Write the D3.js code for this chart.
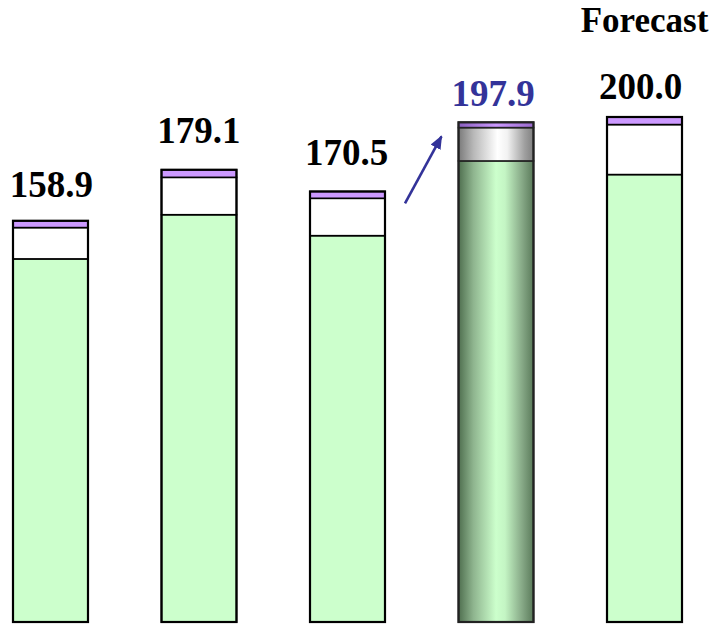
<!DOCTYPE html>
<html>
<head>
<meta charset="utf-8">
<script src="https://cdn.jsdelivr.net/npm/d3@7"></script>
<style>
html,body{margin:0;padding:0;background:#fff;}
svg{display:block;}
</style>
</head>
<body>
<svg id="chart" width="713" height="624"></svg>
<script>
const categories = ["Y1", "Y2", "Y3", "Y4", "Y5"];
const baseValues = [143.8, 161.3, 153.0, 182.6, 177.2];
const midValues = [12.4, 14.8, 14.8, 13.2, 19.8];
const topValues = [2.7, 3.0, 2.7, 2.1, 3.0];
const totalLabels = ["158.9", "179.1", "170.5", "197.9", "200.0"];
const highlightIndex = 3;
const forecastIndex = 4;
const forecastLabel = "Forecast";

// layout constants
const labelGap = [24, 27, 26, 16, 18];
const labelShift = [1, 0, -1, -3, -4];

const svg = d3.select("#chart");
const defs = svg.append("defs");

function hGrad(id, stops) {
  const g = defs.append("linearGradient").attr("id", id)
    .attr("x1", "0%").attr("x2", "100%").attr("y1", "0%").attr("y2", "0%");
  stops.forEach(s => g.append("stop").attr("offset", s[0]).attr("stop-color", s[1]));
}
hGrad("gGreen", [["0%", "#4f6f4f"], ["20%", "#8fb58f"], ["50%", "#ccffcc"], ["62%", "#c4f5c4"], ["85%", "#86a886"], ["100%", "#5a7a5a"]]);
hGrad("gGray", [["0%", "#7a7a7a"], ["20%", "#b8b8b8"], ["52%", "#ffffff"], ["65%", "#f2f2f2"], ["88%", "#a0a0a0"], ["100%", "#808080"]]);
hGrad("gPurple", [["0%", "#8a5fbf"], ["50%", "#cc99ff"], ["100%", "#9a6acc"]]);

const x = d3.scaleBand().domain(categories).range([13, 682]).paddingInner(0.495).paddingOuter(0);
const y = d3.scaleLinear().domain([0, 200]).range([622, 117]);

const data = categories.map((c, i) => {
  const b = baseValues[i], m = midValues[i], t = topValues[i];
  return {c, i, segs: [
    {y0: 0, y1: b, kind: "base"},
    {y0: b, y1: b + m, kind: "mid"},
    {y0: b + m, y1: b + m + t, kind: "top"}
  ], total: b + m + t};
});

const fills = {
  base: i => i === highlightIndex ? "url(#gGreen)" : "#ccffcc",
  mid: i => i === highlightIndex ? "url(#gGray)" : "#ffffff",
  top: i => i === highlightIndex ? "url(#gPurple)" : "#cc99ff"
};

const bars = svg.selectAll("g.bar").data(data).join("g").attr("class", "bar");
bars.selectAll("rect.seg").data(d => d.segs.map(s => ({...s, c: d.c, i: d.i}))).join("rect")
  .attr("class", "seg")
  .attr("x", d => x(d.c))
  .attr("width", x.bandwidth())
  .attr("y", d => y(d.y1))
  .attr("height", d => y(d.y0) - y(d.y1))
  .attr("fill", d => fills[d.kind](d.i))
  .attr("stroke", d => d.i === highlightIndex ? "#222" : "#000")
  .attr("stroke-width", 1.6);

bars.append("rect")
  .attr("x", d => x(d.c))
  .attr("width", x.bandwidth())
  .attr("y", d => y(d.total))
  .attr("height", d => y(0) - y(d.total))
  .attr("fill", "none")
  .attr("stroke", d => d.i === highlightIndex ? "#222" : "#000")
  .attr("stroke-width", 2.2);

svg.selectAll("text.total").data(data).join("text")
  .attr("class", "total")
  .attr("x", d => x(d.c) + x.bandwidth() / 2 + labelShift[d.i])
  .attr("y", d => y(d.total) - labelGap[d.i])
  .attr("text-anchor", "middle")
  .attr("font-family", "'Liberation Serif', 'Times New Roman', serif")
  .attr("font-weight", "bold")
  .attr("font-size", 37)
  .attr("fill", d => d.i === highlightIndex ? "#333399" : "#000")
  .text(d => totalLabels[d.i]);

svg.append("text")
  .attr("x", x(categories[forecastIndex]) + x.bandwidth() / 2)
  .attr("y", 32)
  .attr("text-anchor", "middle")
  .attr("font-family", "'Liberation Serif', 'Times New Roman', serif")
  .attr("font-weight", "bold")
  .attr("font-size", 35)
  .attr("fill", "#000")
  .text(forecastLabel);

// arrow annotation
defs.append("marker").attr("id", "arrowHead")
  .attr("viewBox", "0 0 12 10").attr("refX", 11).attr("refY", 5)
  .attr("markerWidth", 5.2).attr("markerHeight", 4.4).attr("orient", "auto")
  .attr("markerUnits", "strokeWidth")
  .append("path").attr("d", "M0,0 L12,5 L0,10 Z").attr("fill", "#333399");

const fromCat = categories[highlightIndex - 1];
const toCat = categories[highlightIndex];
const fromTotal = data[highlightIndex - 1].total;
const toTotal = data[highlightIndex].total;
svg.append("line")
  .attr("x1", x(fromCat) + x.bandwidth() + 20)
  .attr("y1", y(fromTotal) + 12)
  .attr("x2", x(toCat) - 17)
  .attr("y2", y(toTotal) + 14)
  .attr("stroke", "#333399")
  .attr("stroke-width", 2.6)
  .attr("marker-end", "url(#arrowHead)");
</script>
</body>
</html>
